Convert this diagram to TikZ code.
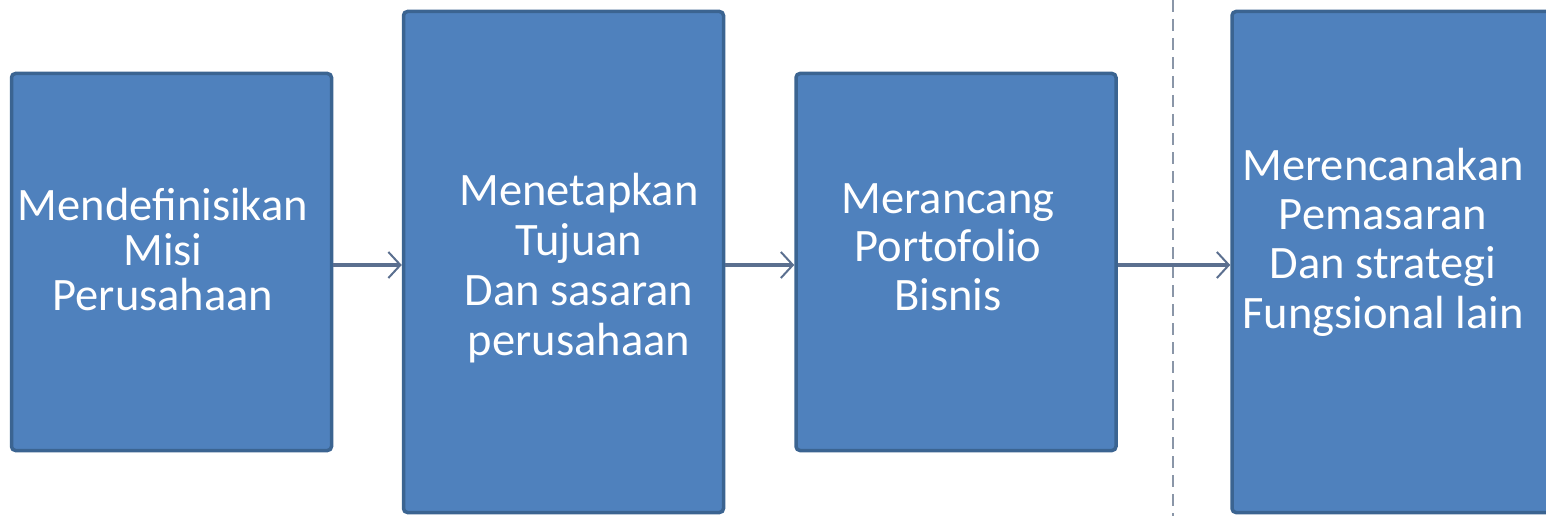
\documentclass[tikz,border=0pt]{standalone}
\usepackage{fontspec}
\setmainfont{Carlito}
\usetikzlibrary{arrows.meta}
\definecolor{boxfill}{HTML}{4F81BD}
\definecolor{boxedge}{HTML}{3B6491}
\definecolor{arrowc}{HTML}{5B6F8F}
\definecolor{dashc}{HTML}{8A96A8}
\tikzset{
  stepbox/.style={draw=boxedge, line width=3.5pt, fill=boxfill, rounded corners=4pt, inner sep=0pt},
  steptext/.style={text=white, align=center, anchor=base, inner sep=0pt},
  flow/.style={draw=arrowc, line width=3.5pt, -{Straight Barb[length=12pt,width=26pt,line width=2pt]}},
}
\begin{document}
\begin{tikzpicture}[x=1pt,y=-1pt]
\useasboundingbox (0,0) rectangle (1546,516);
% boxes
\node[stepbox, minimum width=320pt, minimum height=377pt] (b1) at (171.5,262) {};
\node[stepbox, minimum width=320pt, minimum height=501pt] (b2) at (563.5,262) {};
\node[stepbox, minimum width=320pt, minimum height=377pt] (b3) at (956,262) {};
\node[stepbox, minimum width=320pt, minimum height=501pt] (b4) at (1392,262) {};
% dashed separator
\coordinate (dtop) at (1173,0);
\coordinate (dbot) at (1173,516);
\draw[dashc, line width=1.8pt, dash pattern=on 12pt off 7pt] (dtop) -- (dbot);
% texts
\node[steptext, font=\fontsize{46.5}{45}\selectfont] (t1) at (163,310) {Mendefinisikan\\Misi\\Perusahaan};
\node[steptext, font=\fontsize{46.5}{50}\selectfont] (t2) at (579,355) {Menetapkan\\Tujuan\\Dan sasaran\\perusahaan};
\node[steptext, font=\fontsize{46.5}{48.5}\selectfont] (t3) at (948,310) {Merancang\\Portofolio\\Bisnis};
\node[steptext, font=\fontsize{46.5}{49.3}\selectfont] (t4) at (1383,328) {Merencanakan\\Pemasaran\\Dan strategi\\Fungsional lain};
% arrows
\draw[flow] (b1.east |- 0,265) -- (b2.west |- 0,265);
\draw[flow] (b2.east |- 0,265) -- (b3.west |- 0,265);
\draw[flow] (b3.east |- 0,265) -- (b4.west |- 0,265);
\end{tikzpicture}
\end{document}
